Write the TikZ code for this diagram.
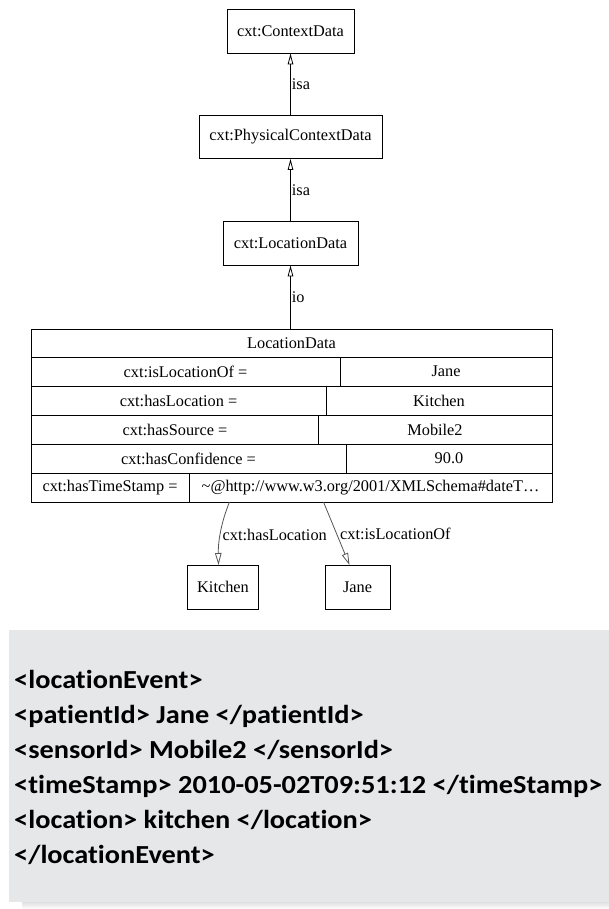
\documentclass[tikz,border=0pt]{standalone}
\usepackage{fontspec}
\setmainfont{Liberation Serif}
\newfontfamily\xmlfont[Ligatures=NoCommon]{Carlito}
\usetikzlibrary{arrows.meta}
\definecolor{panel}{HTML}{E6E7E9}
\definecolor{shade}{HTML}{8A8C8F}
\definecolor{edgegray}{HTML}{555555}
\begin{document}
\begin{tikzpicture}[x=1pt,y=-1pt,
  cls/.style={draw,line width=0.8pt,inner sep=0pt,font=\fontsize{16.3}{18}\selectfont},
  cell/.style={font=\fontsize{16.3}{18}\selectfont,inner sep=0pt},
  isaedge/.style={draw,line width=0.8pt,-{Triangle[open,length=11pt,width=5.5pt]}},
  reledge/.style={draw=edgegray,line width=0.8pt,-{Triangle[open,length=12pt,width=6.5pt]}},
  elabel/.style={font=\fontsize{16.3}{18}\selectfont,inner sep=1pt},
  xml/.style={font=\xmlfont\bfseries\fontsize{26}{30}\selectfont,anchor=base west,inner sep=0pt,xscale=1.09}]
\useasboundingbox (0,0) rectangle (609,909);
% class nodes
\node[cls,minimum width=127pt,minimum height=44pt] (ctx) at (290.5,31) {cxt:ContextData};
\node[cls,minimum width=183pt,minimum height=43pt] (phys) at (290.5,137) {cxt:PhysicalContextData};
\node[cls,minimum width=135pt,minimum height=44pt] (loc) at (290.5,243) {cxt:LocationData};
% table
\draw[line width=0.8pt] (31,329) rectangle (552,502);
\foreach \yy in {357,386,415,444,473} \draw[line width=0.8pt] (31,\yy) -- (552,\yy);
\draw[line width=0.8pt] (340,357) -- (340,386);
\draw[line width=0.8pt] (326,386) -- (326,415);
\draw[line width=0.8pt] (318.5,415) -- (318.5,444);
\draw[line width=0.8pt] (346,444) -- (346,473);
\draw[line width=0.8pt] (189.5,473) -- (189.5,502);
\coordinate (tbltop) at (290.5,329);
\node[cell] (title) at (291.5,343) {LocationData};
\node[cell] (k1) at (185.5,371.5) {cxt:isLocationOf =};
\node[cell] (v1) at (446,371.5) {Jane};
\node[cell] (k2) at (178.5,400.5) {cxt:hasLocation =};
\node[cell] (v2) at (439,400.5) {Kitchen};
\node[cell] (k3) at (175,429.5) {cxt:hasSource =};
\node[cell] (v3) at (435,429.5) {Mobile2};
\node[cell] (k4) at (188.5,458.5) {cxt:hasConfidence =};
\node[cell] (v4) at (449,458.5) {90.0};
\node[cell] (k5) at (110,487.5) {cxt:hasTimeStamp =};
\node[cell] (v5) at (370.5,487.5) {\textasciitilde@http://www.w3.org/2001/XMLSchema\#dateT\dots};
% leaf nodes
\node[cls,minimum width=71pt,minimum height=44pt] (kit) at (223,587) {Kitchen};
\node[cls,minimum width=65pt,minimum height=44pt] (jane) at (357.5,587) {Jane};
\coordinate (s1) at (229.5,502);
\coordinate (s2) at (323.5,502);
\coordinate (t1) at (218.5,565);
\coordinate (t2) at (349.5,565);
% isa edges
\draw[isaedge] (phys.north) -- node[elabel,anchor=west,pos=0.5] (l1) {isa} (ctx.south);
\draw[isaedge] (loc.north) -- node[elabel,anchor=west,pos=0.5] (l2) {isa} (phys.south);
\draw[isaedge] (tbltop) -- node[elabel,anchor=west,pos=0.5] (l3) {io} (loc.south);
% relation edges
\draw[reledge] (s1) .. controls (222,520) and (218,540) .. (t1);
\draw[reledge] (s2) -- (t2);
\node[elabel,anchor=west] (lab1) at (221.5,535) {cxt:hasLocation};
\node[elabel,anchor=west] (lab2) at (339,534) {cxt:isLocationOf};
% xml panel
\fill[shade] (22.5,880) rectangle (620,909);
\fill[panel] (8.5,630) rectangle (620,902);
\node[xml] (x1) at (14,688) {<locationEvent>};
\node[xml] (x2) at (14,723) {<patientId> Jane </patientId>};
\node[xml] (x3) at (14,758) {<sensorId> Mobile2 </sensorId>};
\node[xml] (x4) at (14,793) {<timeStamp> 2010-05-02T09:51:12 </timeStamp>};
\node[xml] (x5) at (14,828) {<location> kitchen </location>};
\node[xml] (x6) at (14,863) {</locationEvent>};
\end{tikzpicture}
\end{document}
